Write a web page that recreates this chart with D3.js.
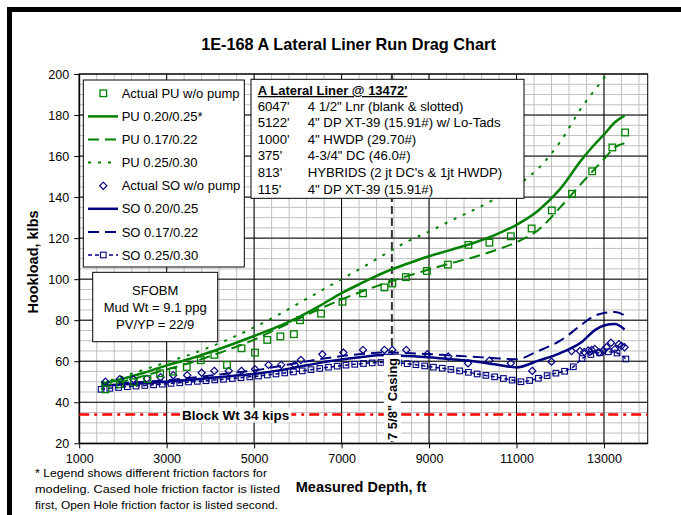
<!DOCTYPE html>
<html>
<head>
<meta charset="utf-8">
<script src="https://d3js.org/d3.v7.min.js"></script>
<style>
  body { margin: 0; background: #fff; }
  text { font-family: Arial, "Liberation Sans", sans-serif; }
</style>
</head>
<body>
<div id="container"></div>
<script>
var width = 681;
var height = 515;

// model runs (depth ft / hookload klbs)
var modelDepth = [1500, 2000, 2500, 3000, 3500, 4000, 4500, 5000, 5500, 6000, 6500, 7000, 7500, 8000,
  8500, 9000, 9500, 10000, 10500, 11000, 11500, 12000, 12500, 12800, 13000, 13250, 13472];
var pu020 = [49, 51.5, 54.5, 58, 61, 64.5, 68.3, 72.3, 76.5, 81.3, 87, 93.2, 98.5, 103.5,
  107.5, 111.2, 114.3, 117.5, 121.5, 126.5, 133.5, 144, 158.5, 166, 170.5, 176.5, 179.7];
var pu017 = [47.5, 50, 53, 56, 59, 62.5, 66.3, 70.5, 75.5, 80.5, 85.5, 90.1, 94.3, 98,
  101.5, 104.7, 107.8, 110.6, 114, 118, 124, 135, 147, 154, 158.5, 164.3, 166.3];
var pu025 = [49.5, 52.5, 56, 59.5, 63, 67, 71.5, 76.5, 82, 88, 94, 100, 106, 112.3,
  118.3, 123.2, 128.5, 133.5, 139, 145.5, 154, 167, 184, 192.5, 198, 205, 211];
var so020 = [48, 48.8, 49.3, 50, 50.8, 51.8, 52.8, 53.8, 55.3, 57.2, 59.2, 60.8, 62.2, 63,
  62.6, 62, 61, 60, 58.5, 57, 60.3, 64, 69.5, 75.3, 77.4, 78.1, 75.5];
var so017 = [48, 49.3, 50, 50.8, 51.8, 53, 54.3, 55.5, 57.3, 59.2, 61, 62.5, 63.6, 64.3,
  64, 63.5, 62.8, 62.2, 61.5, 61, 65, 70, 78, 82.3, 83.5, 84, 82.3];

var so025Depth = [1500, 1700, 1900, 2100, 2300, 2500, 2700, 2900, 3100, 3300, 3500, 3700, 3900, 4100,
  4300, 4500, 4700, 4900, 5100, 5300, 5500, 5700, 5900, 6100, 6300, 6500, 6700, 6900, 7100, 7300,
  7500, 7700, 7900, 8100, 8300, 8500, 8700, 8900, 9100, 9300, 9500, 9700, 9900, 10100, 10300,
  10500, 10700, 10900, 11100, 11300, 11500, 11700, 11900, 12100, 12300, 12500, 12700, 12900,
  13100, 13300, 13500];
var so025 = [46.3, 46.8, 47.2, 47.6, 47.9, 48.2, 48.5, 48.8, 49.2, 49.5, 49.9, 50.2, 50.5, 50.9,
  51.2, 51.6, 52, 52.4, 52.8, 53.3, 53.8, 54.3, 54.8, 55.3, 55.9, 56.5, 57.1, 57.6, 58.1, 58.5,
  58.9, 59.2, 59.4, 59.5, 59.2, 58.8, 58.3, 57.7, 57.1, 56.6, 56, 55.3, 54.6, 53.8, 53.1,
  52.4, 51.6, 50.8, 50, 50.6, 51.7, 53, 54.2, 55.1, 57.3, 61.3, 63.3, 64.1,
  64.6, 64, 61.1];

// field readings
var puDepth = [1600, 1930, 2250, 2560, 2850, 3140, 3460, 3780, 4090, 4380, 4710, 5020, 5300, 5600,
  5910, 6050, 6530, 7020, 7490, 7980, 8160, 8470, 8950, 9430, 9900, 10380, 10870, 11346, 11808,
  12269, 12731, 13192, 13484];
var puActual = [46.3, 48.8, 49.8, 51.3, 54.1, 54.9, 57.2, 60.5, 63.1, 58.2, 66.3, 64.2, 70.4, 72.1,
  73.2, 80, 83.2, 89, 93.1, 96, 97.9, 101, 104, 107.1, 116.7, 117.8, 120.9, 124.7, 133.5,
  141.6, 152.6, 164.2, 171.5];
var soDepth = [1600, 1930, 2240, 2550, 2860, 3150, 3470, 3800, 4090, 4420, 4710, 5020, 5330, 5620,
  5930, 6070, 6560, 7040, 7490, 7980, 8160, 8480, 8960, 9440, 9890, 10380, 10870, 11360, 11800,
  12260, 12450, 12550, 12640, 12720, 12790, 12890, 12980, 13060, 13160, 13250, 13340, 13400, 13470];
var soActual = [50, 51.3, 51.2, 51.5, 52.2, 53.2, 53.2, 54.4, 55.3, 55.3, 55.3, 56.1, 58.2, 58.2,
  58.2, 60.6, 63.4, 64.2, 65.5, 65.5, 65.5, 65.5, 63.4, 62.3, 59, 60.3, 59, 55.3, 59.8,
  65, 65, 64.5, 65.2, 65.5, 66, 64.3, 65.2, 66.8, 69, 65.9, 68.3, 67.5, 66.8];

var xTicks = [1000, 3000, 5000, 7000, 9000, 11000, 13000];
var yTicks = [20, 40, 60, 80, 100, 120, 140, 160, 180, 200];
var blockWt = 34;
var casingDepth = 8150;

var legendItems = ["Actual PU w/o pump", "PU 0.20/0.25*", "PU 0.17/0.22", "PU 0.25/0.30",
  "Actual SO w/o pump", "SO 0.20/0.25", "SO 0.17/0.22", "SO 0.25/0.30"];
var stringRows = [["6047'", "4 1/2\" Lnr (blank & slotted)"],
  ["5122'", "4\" DP XT-39 (15.91#) w/ Lo-Tads"],
  ["1000'", "4\" HWDP (29.70#)"],
  ["375'", "4-3/4\" DC (46.0#)"],
  ["813'", "HYBRIDS (2 jt DC's & 1jt HWDP)"],
  ["115'", "4\" DP XT-39 (15.91#)"]];
var mudLines = ["SFOBM", "Mud Wt = 9.1 ppg", "PV/YP = 22/9"];
var noteLines = ["* Legend shows different friction factors for",
  "modeling.  Cased hole friction factor is listed",
  "first, Open Hole friction factor is listed second."];
var noteWidths = [232, 245, 243];

var green = "#008000", navy = "#000080";
var plot = {left: 79.2, right: 647.7, top: 74, bottom: 443.3};

var svg = d3.select('#container').append('svg').attr('width', width).attr('height', height);
svg.append('rect').attr('width', width).attr('height', height).attr('fill', '#fff');

// outer frame (left and top edges only visible)
svg.append('rect').attr('x', 7).attr('y', 7).attr('width', 5).attr('height', height - 7).attr('fill', '#000');
svg.append('rect').attr('x', 7).attr('y', 7).attr('width', width - 7).attr('height', 5).attr('fill', '#000');

var x = d3.scaleLinear().domain([1000, 14000]).range([plot.left, plot.right]);
var y = d3.scaleLinear().domain([20, 200]).range([plot.bottom, plot.top]);

// grid
var grid = svg.append('g');
grid.selectAll('.vmin').data(d3.range(1400, 14000, 400)).enter().append('line')
  .attr('x1', function(d){ return x(d); }).attr('x2', function(d){ return x(d); })
  .attr('y1', plot.top).attr('y2', plot.bottom).attr('stroke', '#c0c0c0');
grid.selectAll('.hmin').data(d3.range(25, 200, 5)).enter().append('line')
  .attr('y1', function(d){ return y(d); }).attr('y2', function(d){ return y(d); })
  .attr('x1', plot.left).attr('x2', plot.right).attr('stroke', '#c0c0c0');
grid.selectAll('.vmaj').data(xTicks).enter().append('line')
  .attr('x1', function(d){ return x(d); }).attr('x2', function(d){ return x(d); })
  .attr('y1', plot.top).attr('y2', plot.bottom).attr('stroke', '#000');
grid.selectAll('.hmaj').data(yTicks).enter().append('line')
  .attr('y1', function(d){ return y(d); }).attr('y2', function(d){ return y(d); })
  .attr('x1', plot.left).attr('x2', plot.right).attr('stroke', '#000');
svg.append('rect').attr('x', plot.left).attr('y', plot.top)
  .attr('width', plot.right - plot.left).attr('height', plot.bottom - plot.top)
  .attr('fill', 'none').attr('stroke', '#000');

// axes
var xAxis = svg.append('g').attr('transform', 'translate(0,' + plot.bottom + ')')
  .call(d3.axisBottom(x).tickValues(xTicks).tickSize(5).tickSizeOuter(0).tickPadding(6).tickFormat(d3.format('d')));
var yAxis = svg.append('g').attr('transform', 'translate(' + plot.left + ',0)')
  .call(d3.axisLeft(y).tickValues(yTicks).tickSize(5).tickSizeOuter(0).tickPadding(5));
[xAxis, yAxis].forEach(function(a){
  a.selectAll('text').attr('font-size', '12.5px').attr('fill', '#000')
    .style('font-family', 'Arial, "Liberation Sans", sans-serif');
  a.select('.domain').attr('stroke', '#000');
});

// clip
svg.append('defs').append('clipPath').attr('id', 'clip').append('rect')
  .attr('x', plot.left).attr('y', plot.top)
  .attr('width', plot.right - plot.left).attr('height', plot.bottom - plot.top);
var chartGroup = svg.append('g').attr('clip-path', 'url(#clip)');

// block weight line
chartGroup.append('line').attr('x1', plot.left).attr('x2', plot.right)
  .attr('y1', y(blockWt)).attr('y2', y(blockWt))
  .attr('stroke', '#ff0000').attr('stroke-width', 2.5).attr('stroke-dasharray', '10,5,3,5');

// casing line
chartGroup.append('line').attr('x1', x(casingDepth)).attr('x2', x(casingDepth))
  .attr('y1', plot.top).attr('y2', plot.bottom)
  .attr('stroke', '#333').attr('stroke-width', 2).attr('stroke-dasharray', '8,4');

function drawLine(depths, vals, color, w, dash) {
  var line = d3.line().curve(d3.curveMonotoneX)
    .x(function(d, i){ return x(depths[i]); })
    .y(function(d){ return y(d); });
  chartGroup.append('path').datum(vals).attr('d', line)
    .attr('fill', 'none').attr('stroke', color).attr('stroke-width', w)
    .attr('stroke-dasharray', dash);
}
drawLine(so025Depth, so025, navy, 1.5, '4,3');
drawLine(modelDepth, so017, navy, 2, '11,6');
drawLine(modelDepth, so020, navy, 2.5, null);
drawLine(modelDepth, pu025, green, 2, '3,7');
drawLine(modelDepth, pu017, green, 2, '11,6');
drawLine(modelDepth, pu020, green, 2.5, null);

var diamond = 'M0,-3.6L3.6,0L0,3.6L-3.6,0Z';
chartGroup.selectAll('.sq025').data(so025).enter().append('rect')
  .attr('x', function(d, i){ return x(so025Depth[i]) - 2.8; })
  .attr('y', function(d){ return y(d) - 2.8; })
  .attr('width', 5.6).attr('height', 5.6)
  .attr('fill', 'none').attr('stroke', navy).attr('stroke-width', 1.1);
chartGroup.selectAll('.soA').data(soActual).enter().append('path')
  .attr('d', diamond)
  .attr('transform', function(d, i){ return 'translate(' + x(soDepth[i]) + ',' + y(d) + ')'; })
  .attr('fill', 'none').attr('stroke', navy).attr('stroke-width', 1.2);
chartGroup.selectAll('.puA').data(puActual).enter().append('rect')
  .attr('x', function(d, i){ return x(puDepth[i]) - 3.3; })
  .attr('y', function(d){ return y(d) - 3.3; })
  .attr('width', 6.6).attr('height', 6.6)
  .attr('fill', 'none').attr('stroke', green).attr('stroke-width', 1.3);

// block weight label
var bw = svg.append('g').attr('transform', 'translate(182,' + y(blockWt) + ')');
var bwText = bw.append('text').attr('y', 5).attr('font-size', '13.5px').attr('font-weight', 'bold')
  .text('Block Wt ' + blockWt + ' kips');
var bb = bwText.node().getBBox();
bw.insert('rect', 'text').attr('x', bb.x - 2).attr('y', bb.y).attr('width', bb.width + 4)
  .attr('height', bb.height).attr('fill', '#fff');

// casing label
var cs = svg.append('g').attr('transform', 'translate(' + x(casingDepth) + ',440) rotate(-90)');
var csText = cs.append('text').attr('x', 0).attr('y', 5).attr('font-size', '13px').attr('font-weight', 'bold')
  .text('7 5/8" Casing');
var cb = csText.node().getBBox();
cs.insert('rect', 'text').attr('x', cb.x - 1).attr('y', cb.y - 1).attr('width', cb.width + 4)
  .attr('height', cb.height + 2).attr('fill', '#fff');

// legend
var legend = svg.append('g');
legend.append('rect').attr('x', 83.3).attr('y', 80).attr('width', 161).attr('height', 187)
  .attr('fill', '#fff').attr('stroke', '#000');
var legendStyle = [
  {c: green, m: 'sq'}, {c: green, w: 2.5, dash: null}, {c: green, w: 2, dash: '11,6'}, {c: green, w: 2, dash: '3,7'},
  {c: navy, m: 'di'}, {c: navy, w: 2.5, dash: null}, {c: navy, w: 2, dash: '11,6'}, {c: navy, w: 1.5, dash: '4,3', m: 'sq2'}];
legendItems.forEach(function(name, i){
  var ly = 93.3 + i * 23.1;
  var s = legendStyle[i];
  if (s.w) {
    legend.append('line').attr('x1', 88).attr('x2', 118).attr('y1', ly).attr('y2', ly)
      .attr('stroke', s.c).attr('stroke-width', s.w).attr('stroke-dasharray', s.dash);
  }
  if (s.m === 'sq') {
    legend.append('rect').attr('x', 100).attr('y', ly - 3.3).attr('width', 6.6).attr('height', 6.6)
      .attr('fill', 'none').attr('stroke', s.c).attr('stroke-width', 1.3);
  } else if (s.m === 'di') {
    legend.append('path').attr('d', diamond).attr('transform', 'translate(103.3,' + ly + ')')
      .attr('fill', 'none').attr('stroke', s.c).attr('stroke-width', 1.2);
  } else if (s.m === 'sq2') {
    legend.append('rect').attr('x', 100.5).attr('y', ly - 2.8).attr('width', 5.6).attr('height', 5.6)
      .attr('fill', '#fff').attr('stroke', s.c).attr('stroke-width', 1.1);
  }
  legend.append('text').attr('x', 121.7).attr('y', ly + 4.6).attr('font-size', '13px').text(name);
});

// string box
var box = svg.append('g');
box.append('rect').attr('x', 251).attr('y', 79.3).attr('width', 273).attr('height', 119)
  .attr('fill', '#fff').attr('stroke', '#000');
box.append('text').attr('x', 257.7).attr('y', 95).attr('font-size', '13px').attr('font-weight', 'bold')
  .attr('text-decoration', 'underline').text("A Lateral Liner @ 13472'");
stringRows.forEach(function(r, i){
  var ty = 110.5 + i * 16.6;
  box.append('text').attr('x', 257.7).attr('y', ty).attr('font-size', '13.2px').text(r[0]);
  box.append('text').attr('x', 307.7).attr('y', ty).attr('font-size', '13.2px').text(r[1]);
});

// mud box
var mud = svg.append('g');
mud.append('rect').attr('x', 92.7).attr('y', 272.3).attr('width', 125).attr('height', 69.4)
  .attr('fill', '#fff').attr('stroke', '#000');
mudLines.forEach(function(t, i){
  mud.append('text').attr('x', 155.2).attr('y', 295 + i * 17).attr('text-anchor', 'middle')
    .attr('font-size', '13px').text(t);
});

// titles
svg.append('text').attr('x', 348.5).attr('y', 50).attr('text-anchor', 'middle')
  .attr('font-size', '16.3px').attr('font-weight', 'bold').text('1E-168 A Lateral Liner Run Drag Chart');
svg.append('text').attr('transform', 'translate(38,262) rotate(-90)').attr('text-anchor', 'middle')
  .attr('font-size', '14.5px').attr('font-weight', 'bold').text('Hookload, klbs');
svg.append('text').attr('x', 361).attr('y', 492).attr('text-anchor', 'middle')
  .attr('font-size', '14.5px').attr('font-weight', 'bold').text('Measured Depth, ft');

noteLines.forEach(function(t, i){
  svg.append('text').attr('x', 35).attr('y', 477 + i * 16).attr('font-size', '11.5px')
    .attr('textLength', noteWidths[i]).attr('lengthAdjust', 'spacingAndGlyphs').text(t);
});
</script>
</body>
</html>
